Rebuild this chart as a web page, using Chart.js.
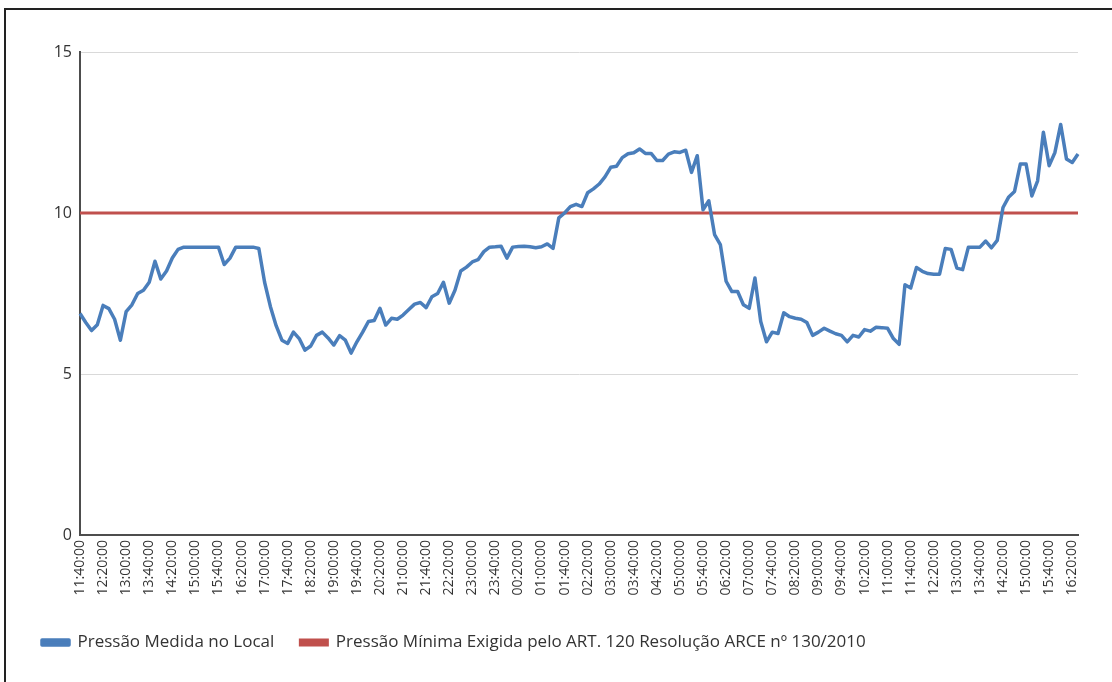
<!DOCTYPE html>
<html lang="pt">
<head>
<meta charset="utf-8">
<title>Pressão Medida no Local</title>
<script src="https://cdn.jsdelivr.net/npm/chart.js@4/dist/chart.umd.min.js"></script>
<style>
    html, body { margin: 0; padding: 0; background: #fff; }
    #moldura {
        position: absolute; left: 4px; top: 8px; width: 1200px; height: 800px;
        border-left: 2px solid #222; border-top: 2px solid #222;
    }
    #grafico-wrap { position: absolute; left: 0; top: 0; width: 1112px; height: 682px; }
</style>
</head>
<body>
<div id="moldura"></div>
<div id="grafico-wrap"><canvas id="grafico" width="1112" height="682"></canvas></div>
<script>
// horários das leituras (a cada 10 min)
const horarios = (
    '11:40:00 11:50:00 ' +
    '12:00:00 12:10:00 12:20:00 12:30:00 12:40:00 12:50:00 ' +
    '13:00:00 13:10:00 13:20:00 13:30:00 13:40:00 13:50:00 ' +
    '14:00:00 14:10:00 14:20:00 14:30:00 14:40:00 14:50:00 ' +
    '15:00:00 15:10:00 15:20:00 15:30:00 15:40:00 15:50:00 ' +
    '16:00:00 16:10:00 16:20:00 16:30:00 16:40:00 16:50:00 ' +
    '17:00:00 17:10:00 17:20:00 17:30:00 17:40:00 17:50:00 ' +
    '18:00:00 18:10:00 18:20:00 18:30:00 18:40:00 18:50:00 ' +
    '19:00:00 19:10:00 19:20:00 19:30:00 19:40:00 19:50:00 ' +
    '20:00:00 20:10:00 20:20:00 20:30:00 20:40:00 20:50:00 ' +
    '21:00:00 21:10:00 21:20:00 21:30:00 21:40:00 21:50:00 ' +
    '22:00:00 22:10:00 22:20:00 22:30:00 22:40:00 22:50:00 ' +
    '23:00:00 23:10:00 23:20:00 23:30:00 23:40:00 23:50:00 ' +
    '00:00:00 00:10:00 00:20:00 00:30:00 00:40:00 00:50:00 ' +
    '01:00:00 01:10:00 01:20:00 01:30:00 01:40:00 01:50:00 ' +
    '02:00:00 02:10:00 02:20:00 02:30:00 02:40:00 02:50:00 ' +
    '03:00:00 03:10:00 03:20:00 03:30:00 03:40:00 03:50:00 ' +
    '04:00:00 04:10:00 04:20:00 04:30:00 04:40:00 04:50:00 ' +
    '05:00:00 05:10:00 05:20:00 05:30:00 05:40:00 05:50:00 ' +
    '06:00:00 06:10:00 06:20:00 06:30:00 06:40:00 06:50:00 ' +
    '07:00:00 07:10:00 07:20:00 07:30:00 07:40:00 07:50:00 ' +
    '08:00:00 08:10:00 08:20:00 08:30:00 08:40:00 08:50:00 ' +
    '09:00:00 09:10:00 09:20:00 09:30:00 09:40:00 09:50:00 ' +
    '10:00:00 10:10:00 10:20:00 10:30:00 10:40:00 10:50:00 ' +
    '11:00:00 11:10:00 11:20:00 11:30:00 11:40:00 11:50:00 ' +
    '12:00:00 12:10:00 12:20:00 12:30:00 12:40:00 12:50:00 ' +
    '13:00:00 13:10:00 13:20:00 13:30:00 13:40:00 13:50:00 ' +
    '14:00:00 14:10:00 14:20:00 14:30:00 14:40:00 14:50:00 ' +
    '15:00:00 15:10:00 15:20:00 15:30:00 15:40:00 15:50:00 ' +
    '16:00:00 16:10:00 16:20:00 16:30:00'
).split(' ');

// pressão medida (mca)
const pressaoMedida = [
    6.88, 6.6, 6.35, 6.53, 7.13, 7.03, 6.7, 6.05, 6.94, 7.15,
    7.5, 7.6, 7.85, 8.5, 7.95, 8.2, 8.6, 8.87, 8.94, 8.94,
    8.94, 8.94, 8.94, 8.94, 8.94, 8.4, 8.6, 8.94, 8.94, 8.94,
    8.94, 8.9, 7.85, 7.1, 6.5, 6.05, 5.95, 6.3, 6.1, 5.74,
    5.87, 6.2, 6.3, 6.12, 5.9, 6.19, 6.05, 5.65, 6.0, 6.3,
    6.63, 6.66, 7.04, 6.52, 6.73, 6.7, 6.83, 7.0, 7.17, 7.22,
    7.06, 7.4, 7.5, 7.85, 7.2, 7.6, 8.2, 8.32, 8.48, 8.55,
    8.8, 8.94, 8.95, 8.97, 8.6, 8.94, 8.96, 8.97, 8.95, 8.92,
    8.95, 9.04, 8.9, 9.85, 10.0, 10.2, 10.27, 10.2, 10.63, 10.75,
    10.9, 11.12, 11.42, 11.45, 11.72, 11.84, 11.87, 11.99, 11.85, 11.85,
    11.63, 11.63, 11.83, 11.9, 11.88, 11.95, 11.26, 11.78, 10.1, 10.38,
    9.33, 9.02, 7.88, 7.56, 7.56, 7.15, 7.04, 7.98, 6.63, 6.0,
    6.3, 6.26, 6.9, 6.78, 6.73, 6.7, 6.6, 6.2, 6.3, 6.42,
    6.33, 6.25, 6.2, 6.0, 6.2, 6.15, 6.38, 6.33, 6.45, 6.44,
    6.42, 6.1, 5.92, 7.77, 7.67, 8.31, 8.19, 8.12, 8.1, 8.1,
    8.9, 8.87, 8.29, 8.24, 8.94, 8.94, 8.94, 9.13, 8.92, 9.15,
    10.17, 10.5, 10.67, 11.52, 11.52, 10.53, 11.0, 12.51, 11.47, 11.88,
    12.75, 11.68, 11.57, 11.83
];

// pressão mínima exigida (ART. 120 Resolução ARCE nº 130/2010)
const pressaoMinima = 10;

const eixoY = { min: 0, max: 15, passo: 5 };
const passoRotulos = 4; // mostra um rótulo a cada 40 min
const ultimo = horarios.length - 1;

const ctx = document.getElementById('grafico').getContext('2d');

new Chart(ctx, {
    type: 'line',
    data: {
        labels: horarios,
        datasets: [
            {
                label: 'Pressão Medida no Local',
                data: pressaoMedida,
                borderColor: '#4a7ebb',
                backgroundColor: '#4a7ebb',
                borderWidth: 3.5,
                pointRadius: 0,
                tension: 0,
                borderJoinStyle: 'round'
            },
            {
                label: 'Pressão Mínima Exigida pelo ART. 120 Resolução ARCE nº 130/2010',
                // linha constante do primeiro ao último horário (eixo auxiliar por índice)
                xAxisID: 'xIndice',
                data: [
                    { x: 0, y: pressaoMinima },
                    { x: ultimo, y: pressaoMinima }
                ],
                borderColor: '#c0504d',
                backgroundColor: '#c0504d',
                borderWidth: 3,
                pointRadius: 0
            }
        ]
    },
    options: {
        responsive: false,
        animation: false,
        layout: { padding: { left: 16, right: 34, top: 52, bottom: 21 } },
        scales: {
            x: {
                offset: false,
                grid: { display: false, drawTicks: false },
                border: { display: true, color: '#4d4d4d', width: 2 },
                ticks: {
                    autoSkip: false,
                    maxRotation: 90,
                    minRotation: 90,
                    padding: 5,
                    color: '#333',
                    font: { family: 'Open Sans', size: 14 },
                    callback: function(value, index) {
                        return index % passoRotulos === 0 ? horarios[index] : '';
                    }
                },
                afterFit: function(scale) { scale.height = 73; }
            },
            xIndice: {
                type: 'linear',
                display: false,
                min: 0,
                max: ultimo,
                offset: false
            },
            y: {
                min: eixoY.min,
                max: eixoY.max,
                grid: { color: '#d9d9d9', lineWidth: 1, drawTicks: false },
                border: { display: true, color: '#4d4d4d', width: 2 },
                ticks: {
                    stepSize: eixoY.passo,
                    padding: 8,
                    color: '#333',
                    font: { family: 'Open Sans', size: 16 }
                },
                afterFit: function(scale) { scale.width = 64; }
            }
        },
        plugins: {
            legend: {
                position: 'bottom',
                align: 'start',
                labels: {
                    boxWidth: 27,
                    boxHeight: 5,
                    padding: 26,
                    color: '#333',
                    font: { family: 'Open Sans', size: 17 }
                }
            },
            tooltip: { enabled: false }
        }
    }
});
</script>
</body>
</html>
